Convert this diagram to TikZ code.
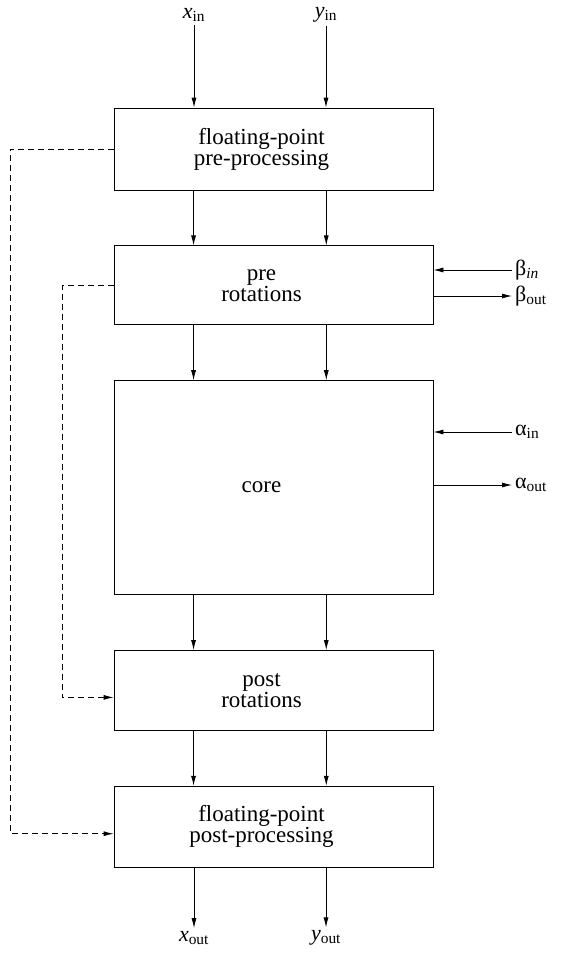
\documentclass[tikz,border=0pt]{standalone}
\usepackage{fontspec}
\setmainfont{Liberation Serif}
\usetikzlibrary{arrows.meta,calc,positioning}
\newcommand{\sig}[2]{\textit{#1}\textsubscript{#2}}

\begin{document}
\begin{tikzpicture}[x=1pt,y=-1pt,node distance=55pt,
    stage/.style={draw,line width=.8pt,minimum width=319pt,inner sep=0pt,
                  label={[align=center,xshift=-12pt,font=\fontsize{23}{18}\selectfont]center:#1}},
    io/.style={inner sep=3pt,font=\fontsize{22}{22}\selectfont},
    flow/.style={-{Latex[length=10pt,width=5pt]},line width=.8pt},
    ctrl/.style={flow,dash pattern=on 6pt off 4pt}]
  \useasboundingbox (0,0) rectangle (561,954);
  % processing chain
  \node[stage={floating-point\\pre-processing},minimum height=82pt] (fpre) at (273.5,149) {};
  \node[stage={pre\\rotations},minimum height=79pt,below=of fpre] (prerot) {};
  \node[stage=core,minimum height=214pt,below=of prerot] (core) {};
  \node[stage={post\\rotations},minimum height=80pt,below=of core] (postrot) {};
  \node[stage={floating-point\\post-processing},minimum height=81pt,below=of postrot] (fpost) {};
  % data in and out
  \node[io] (xin) at (194,15) {\sig{x}{in}};
  \node[io] (yin) at (326,15) {\sig{y}{in}};
  \node[io] (xout) at (194,938) {\sig{x}{out}};
  \node[io] (yout) at (326,938) {\sig{y}{out}};
  \draw[flow] (xin) -- (xin |- fpre.north);
  \draw[flow] (yin) -- (yin |- fpre.north);
  \foreach \a/\b in {fpre/prerot,prerot/core,core/postrot,postrot/fpost}
    \foreach \t in {.25,.665}
      \draw[flow] ($(\a.south west)!\t!(\a.south east)$) -- ($(\b.north west)!\t!(\b.north east)$);
  \draw[flow] (xout |- fpost.south) -- (xout);
  \draw[flow] (yout |- fpost.south) -- (yout);
  % angles
  \node[io,anchor=west] (bin) at (512,270) {β\textsubscript{\textit{in}}};
  \node[io,anchor=west] (bout) at (512,296) {β\textsubscript{out}};
  \node[io,anchor=west] (ain) at (512,432) {α\textsubscript{in}};
  \node[io,anchor=west] (aout) at (512,485) {α\textsubscript{out}};
  \draw[flow] (bin.west) -- (bin.west -| prerot.east);
  \draw[flow] (bout.west -| prerot.east) -- (bout.west);
  \draw[flow] (ain.west) -- (ain.west -| core.east);
  \draw[flow] (aout.west -| core.east) -- (aout.west);
  % exponent bypass
  \coordinate (outer) at (10,0);
  \coordinate (inner) at (62,0);
  \draw[ctrl] (fpre.west) -- (fpre.west -| outer) |- ($(fpost.west)+(0,7)$);
  \draw[ctrl] (prerot.west) -- (prerot.west -| inner) |- ($(postrot.west)+(0,7)$);
\end{tikzpicture}
\end{document}
